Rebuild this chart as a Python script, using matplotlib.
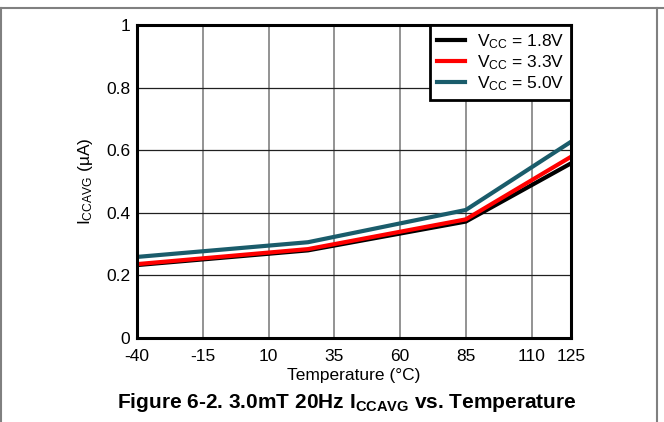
import matplotlib
matplotlib.use('Agg')
import matplotlib.pyplot as plt
from matplotlib.lines import Line2D

plt.rcParams['font.family'] = ['Liberation Sans', 'DejaVu Sans']
plt.rcParams['mathtext.fontset'] = 'custom'
plt.rcParams['mathtext.rm'] = 'Liberation Sans'
plt.rcParams['mathtext.it'] = 'Liberation Sans'
plt.rcParams['mathtext.bf'] = 'Liberation Sans:bold'
plt.rcParams['axes.unicode_minus'] = False

temp = [-40, 25, 85, 125]
i_18 = [0.233, 0.280, 0.372, 0.558]
i_33 = [0.236, 0.284, 0.379, 0.579]
i_50 = [0.259, 0.306, 0.409, 0.627]
labels = [r'V$_{\mathrm{CC}}$ = 1.8V', r'V$_{\mathrm{CC}}$ = 3.3V', r'V$_{\mathrm{CC}}$ = 5.0V']
colors = ['#000000', '#ff0000', '#1a5c6b']
xticks = [-40, -15, 10, 35, 60, 85, 110, 125]
yticks = [0, 0.2, 0.4, 0.6, 0.8, 1]
ytick_labels = ['0', '0.2', '0.4', '0.6', '0.8', '1']

fig = plt.figure(figsize=(6.64, 4.22), dpi=100)
ax = fig.add_axes([137/664, 1 - 338/422, 434/664, 313/422])

for y, c, lab in zip([i_18, i_33, i_50], colors, labels):
    ax.plot(temp, y, color=c, lw=3, label=lab, solid_joinstyle='miter')

ax.set_xlim(-40, 125)
ax.set_ylim(0, 1)
ax.set_xticks(xticks)
ax.set_yticks(yticks)
ax.set_yticklabels(ytick_labels)
ax.tick_params(length=0, labelsize=12.5)
ax.tick_params(axis='x', pad=8)
ax.tick_params(axis='y', pad=5)
ax.grid(axis='x', color='#808080', lw=1.2)
ax.grid(axis='y', color='#202020', lw=0.9)
ax.set_axisbelow(True)
for s in ax.spines.values():
    s.set_linewidth(2.2)
ax.set_xlabel('Temperature (°C)', fontsize=12.5, labelpad=3)
ax.set_ylabel(r'I$_{\mathrm{CCAVG}}$ (µA)', fontsize=12.5, labelpad=8)

leg = ax.legend(loc='upper right', fontsize=12.5, fancybox=False, framealpha=1,
                edgecolor='black', borderaxespad=0, handlelength=1.6,
                labelspacing=0.15, borderpad=0.4, handletextpad=0.7)
leg.get_frame().set_linewidth(2)

fig.text(347/664, 1 - 403/422, r'Figure 6-2. 3.0mT 20Hz I$_{\mathbf{CCAVG}}$ vs. Temperature',
         ha='center', va='center', fontsize=15, fontweight='bold')

# page frame
fig.add_artist(Line2D([0, 1], [1 - 8/422, 1 - 8/422], color='#808080', lw=1.5, transform=fig.transFigure))
fig.add_artist(Line2D([1/664, 1/664], [0, 1 - 8/422], color='#808080', lw=1.5, transform=fig.transFigure))
fig.add_artist(Line2D([657/664, 657/664], [0, 1 - 8/422], color='#808080', lw=1.5, transform=fig.transFigure))

fig.savefig('out.png', dpi=100)
